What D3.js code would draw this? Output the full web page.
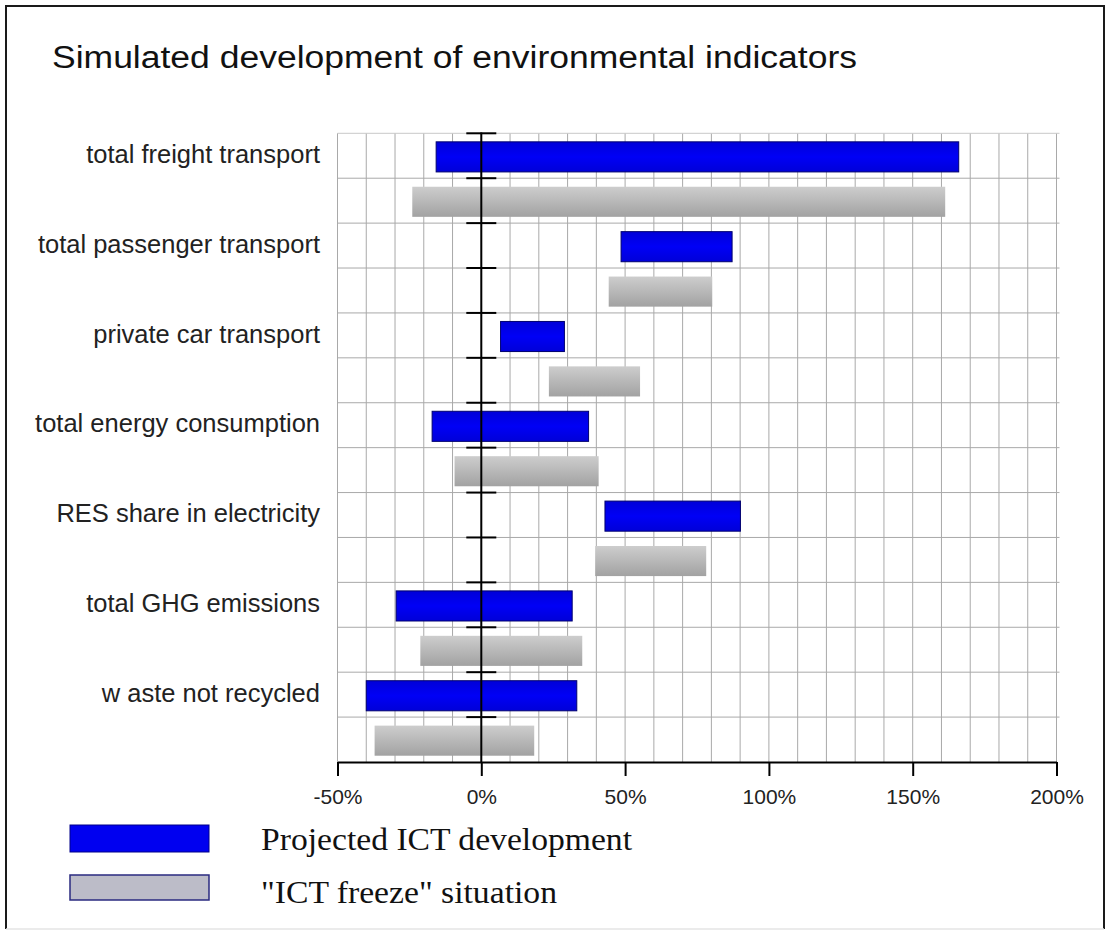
<!DOCTYPE html>
<html><head><meta charset="utf-8">
<script src="https://cdn.jsdelivr.net/npm/d3@7"></script>
<style>html,body{margin:0;padding:0;background:#fff;}svg{display:block;}</style>
</head><body>
<script>
const categories = ["total freight transport","total passenger transport","private car transport","total energy consumption","RES share in electricity","total GHG emissions","w aste not recycled"];
const ictStart    = [-15.7, 48.6,  6.7, -17.1, 43.0, -29.6, -40.0];
const ictEnd      = [166.0, 87.2, 28.9,  37.3, 90.1,  31.6,  33.2];
const freezeStart = [-24.0, 44.3, 23.5,  -9.3, 39.6, -21.2, -37.1];
const freezeEnd   = [161.3, 80.3, 55.2,  40.8, 78.2,  35.1,  18.4];
const seriesNames = ["Projected ICT development", "\"ICT freeze\" situation"];
const xTicks = [-50, 0, 50, 100, 150, 200];
const title = "Simulated development of environmental indicators";

const W = 1107, H = 935;
const svg = d3.select("body").append("svg").attr("width", W).attr("height", H);
const defs = svg.append("defs");
const gg = defs.append("linearGradient").attr("id","grayGrad").attr("x1",0).attr("y1",0).attr("x2",0).attr("y2",1);
gg.append("stop").attr("offset","0%").attr("stop-color","#cdcdcd");
gg.append("stop").attr("offset","100%").attr("stop-color","#a2a2a2");
const bg = defs.append("linearGradient").attr("id","blueGrad").attr("x1",0).attr("y1",0).attr("x2",0).attr("y2",1);
bg.append("stop").attr("offset","0%").attr("stop-color","#0000d8");
bg.append("stop").attr("offset","50%").attr("stop-color","#0000f6");
bg.append("stop").attr("offset","100%").attr("stop-color","#0000d8");

// frame
svg.append("path").attr("d", `M6,929 L6,6 L1104,6 L1104,929`).attr("fill","none").attr("stroke","#1a1a1a").attr("stroke-width",2);
svg.append("line").attr("x1",6).attr("x2",1104).attr("y1",929).attr("y2",929).attr("stroke","#e4e4e4").attr("stroke-width",1.5);

// title
svg.append("text").attr("x",52).attr("y",68).attr("font-family","'Liberation Sans', Arial, sans-serif")
  .attr("font-size",31).attr("fill","#111").attr("textLength",805).attr("lengthAdjust","spacingAndGlyphs").text(title);

const x = d3.scaleLinear().domain([-50, 200]).range([337.5, 1056.5]);
const y = d3.scaleBand().domain(categories).range([133.3, 762]);
const sub = d3.scaleBand().domain(["ict","freeze"]).range([0, y.bandwidth()]);

// grid
const grid = svg.append("g");
grid.selectAll(".vg").data(d3.range(-50, 201, 10)).join("line")
  .attr("x1", d => x(d)).attr("x2", d => x(d)).attr("y1", 133.3).attr("y2", 762)
  .attr("stroke", "#a9a9a9").attr("stroke-width", 1);
const bounds = [];
categories.forEach(c => { bounds.push(y(c)); bounds.push(y(c) + sub.bandwidth()); });
grid.selectAll(".hg").data(bounds).join("line")
  .attr("x1", x(-50)).attr("x2", x(200) + 3).attr("y1", d => d).attr("y2", d => d)
  .attr("stroke", (d,i) => i === 0 ? "#c8c8c8" : "#a9a9a9").attr("stroke-width", 1);

// bars
const rows = [];
categories.forEach((c, i) => {
  rows.push({c, s:"ict", a: ictStart[i], b: ictEnd[i]});
  rows.push({c, s:"freeze", a: freezeStart[i], b: freezeEnd[i]});
});
const bh = sub.bandwidth() * 0.67, bo = sub.bandwidth() * 0.19;
svg.append("g").selectAll("rect").data(rows).join("rect")
  .attr("x", d => x(d.a)).attr("width", d => x(d.b) - x(d.a))
  .attr("y", d => y(d.c) + sub(d.s) + bo).attr("height", bh)
  .attr("fill", d => d.s === "ict" ? "url(#blueGrad)" : "url(#grayGrad)")
  .attr("stroke", d => d.s === "ict" ? "#00006e" : "none").attr("stroke-width", 1);

// zero axis
svg.append("line").attr("x1", x(0)).attr("x2", x(0)).attr("y1", 132.5).attr("y2", 762)
  .attr("stroke", "#000").attr("stroke-width", 2);
svg.append("g").selectAll("line").data(bounds).join("line")
  .attr("x1", x(0) - 15).attr("x2", x(0) + 15).attr("y1", d => d).attr("y2", d => d)
  .attr("stroke", "#000").attr("stroke-width", 2);

// x axis
const xAxis = svg.append("g").attr("transform", "translate(0,762)")
  .call(d3.axisBottom(x).tickValues(xTicks).tickFormat(d => d + "%").tickSize(14).tickSizeOuter(0).tickPadding(13));
xAxis.select(".domain").attr("stroke", "#000").attr("stroke-width", 2);
xAxis.selectAll(".tick line").attr("stroke", "#000").attr("stroke-width", 2);
xAxis.selectAll(".tick text").attr("font-family", "'Liberation Sans', Arial, sans-serif").attr("font-size", 21).attr("fill", "#222");

// category labels
svg.append("g").selectAll("text").data(categories).join("text")
  .attr("x", 320).attr("y", d => y(d) + sub("ict") + sub.bandwidth() / 2)
  .attr("dy", "0.28em").attr("text-anchor", "end")
  .attr("font-family", "'Liberation Sans', Arial, sans-serif").attr("font-size", 25.5)
  .attr("fill", "#222").text(d => d);

// legend
const lg = svg.append("g");
lg.append("rect").attr("x", 70).attr("y", 825).attr("width", 139).attr("height", 27).attr("fill", "#0000f0").attr("stroke", "#00008a");
lg.append("rect").attr("x", 70).attr("y", 875).attr("width", 139).attr("height", 25).attr("fill", "#bcbcc8").attr("stroke", "#2a2a80").attr("stroke-width", 1.5);
lg.append("text").attr("x", 261).attr("y", 850).attr("font-family", "'Liberation Serif', 'Times New Roman', serif")
  .attr("font-size", 31).attr("fill", "#111").attr("textLength", 371).attr("lengthAdjust", "spacingAndGlyphs").text(seriesNames[0]);
lg.append("text").attr("x", 261).attr("y", 903).attr("font-family", "'Liberation Serif', 'Times New Roman', serif")
  .attr("font-size", 31).attr("fill", "#111").attr("textLength", 296).attr("lengthAdjust", "spacingAndGlyphs").text(seriesNames[1]);
</script>
</body></html>
